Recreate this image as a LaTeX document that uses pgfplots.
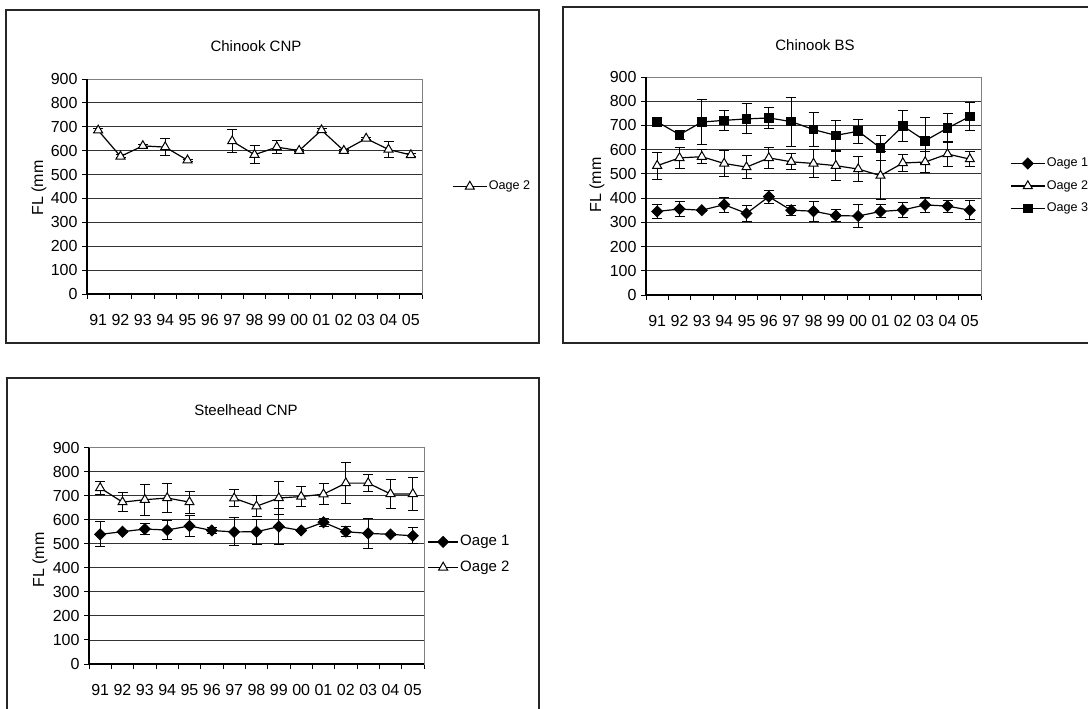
\documentclass[border=0pt]{standalone}
\usepackage{fontspec}
\setmainfont{Liberation Sans}
\usepackage{pgfplots}
\pgfplotsset{compat=1.18}
\usepackage{pgfplotstable}

\pgfplotstableread{
x y e
0 685 8
1 576 6
2 620 6
3 615 35
4 560 5
5 nan nan
6 640 48
7 583 38
8 615 28
9 600 5
10 686 8
11 600 5
12 651 6
13 605 32
14 582 5
}\cnpB

\pgfplotstableread{
x y e
0 345 29
1 355 29
2 350 4
3 373 31
4 337 32
5 406 27
6 350 21
7 346 42
8 328 25
9 326 49
10 345 27
11 351 31
12 372 30
13 367 25
14 350 39
}\bsA

\pgfplotstableread{
x y e
0 534 56
1 566 45
2 571 28
3 543 54
4 528 49
5 566 45
6 550 33
7 543 57
8 534 60
9 520 50
10 493 98
11 545 36
12 549 44
13 582 50
14 561 30
}\bsB

\pgfplotstableread{
x y e
0 715 15
1 662 18
2 714 94
3 721 40
4 727 62
5 731 44
6 716 101
7 683 70
8 659 63
9 676 50
10 607 50
11 698 63
12 637 94
13 689 60
14 737 57
}\bsC

\pgfplotstableread{
x y e
0 539 52
1 550 5
2 561 22
3 557 38
4 574 42
5 555 11
6 549 58
7 550 52
8 571 75
9 555 5
10 589 17
11 550 20
12 543 61
13 539 5
14 533 34
}\shA

\pgfplotstableread{
x y e
0 732 26
1 673 40
2 683 64
3 690 62
4 673 46
5 nan nan
6 689 35
7 656 44
8 690 69
9 696 42
10 706 45
11 752 84
12 752 34
13 707 60
14 707 67
}\shB

\pgfplotsset{
  fish/.style={
    scale only axis, width=335pt,
    xmin=-0.5, xmax=14.5, ymin=0, ymax=900,
    ytick={0,100,...,900},
    xtick={-0.5,0.5,...,14.5},
    xticklabels={91,92,93,94,95,96,97,98,99,00,01,02,03,04,05},
    x tick label as interval,
    tick pos=left,
    tick align=outside,
    major tick length=5pt,
    tick style={black, line width=0.9pt},
    ymajorgrids, xmajorgrids=false,
    grid style={black!80, line width=0.8pt},
    axis line style={black!50, line width=1pt},
    /pgf/number format/assume math mode=true,
    tick label style={font=\fontsize{16}{18}\selectfont},
    xticklabel style={yshift=-12pt},
    yticklabel style={xshift=-1pt},
    clip=false,
    unbounded coords=jump,
    legend cell align=left,
    legend image code/.code={\draw[mark repeat=2,mark phase=2] plot coordinates {(0pt,0pt) (17pt,0pt) (34pt,0pt)};},
    every axis plot/.append style={black, line width=1.2pt},
    error bars/error bar style={black, line width=1pt},
    error bars/error mark options={black, line width=1pt, mark size=5pt, rotate=90},
  },
  tri/.style={mark=triangle*, mark size=5.2pt, mark options={fill=white, draw=black, line width=1pt}},
  dia/.style={mark=square*, mark size=3.7pt, mark options={rotate=45, fill=black, draw=black}},
  sqr/.style={mark=square*, mark size=4.2pt, mark options={fill=black, draw=black}},
}

\begin{document}
\begin{tikzpicture}[x=1pt,y=1pt]
\path[use as bounding box] (0,0) rectangle (1088,-709);
% panel frames
\draw[black!85, line width=1.3pt] (6,-10) rectangle (539,-343);
\draw[black!85, line width=1.3pt] (563,-7) rectangle (1110,-343);
\draw[black!85, line width=1.3pt] (7,-378) rectangle (539,-715);

% titles and labels
\node[font=\fontsize{15}{17}\selectfont] at (256,-46) {Chinook CNP};
\node[font=\fontsize{15}{17}\selectfont] at (815,-45) {Chinook BS};
\node[font=\fontsize{15}{17}\selectfont] at (246,-410) {Steelhead CNP};
\node[font=\fontsize{16}{18}\selectfont, rotate=90] at (39,-188) {FL (mm};
\node[font=\fontsize{16}{18}\selectfont, rotate=90] at (597,-185) {FL (mm};
\node[font=\fontsize{16}{18}\selectfont, rotate=90] at (40,-560) {FL (mm};

% Panel 1
\begin{axis}[fish, height=215pt, at={(87pt,-294pt)}, anchor=south west,
  legend style={draw=none, fill=none, at={(1.0896,0.5)}, anchor=west, inner sep=0pt,
    font=\fontsize{12.6}{14}\selectfont,
    nodes={inner sep=1.5pt, text height=9pt, text depth=2.5pt}}]
\draw[black, line width=1.8pt] (rel axis cs:0,0) -- (rel axis cs:0,1);
\draw[black, line width=1.8pt] (rel axis cs:0,0) -- (rel axis cs:1,0);
\addplot[tri, error bars/.cd, y dir=both, y explicit] table[x=x, y=y, y error=e] {\cnpB};
\addlegendentry{Oage 2}
\end{axis}

% Panel 2
\begin{axis}[fish, height=218pt, at={(646pt,-295pt)}, anchor=south west,
  legend style={draw=none, fill=none, at={(1.0866,0.5)}, anchor=west, inner sep=0pt,
    font=\fontsize{12.6}{14}\selectfont, row sep=8pt,
    nodes={inner sep=1.5pt, text height=9pt, text depth=2.5pt}}]
\draw[black, line width=1.3pt] (rel axis cs:0,0) -- (rel axis cs:0,1);
\draw[black, line width=1.3pt] (rel axis cs:0,0) -- (rel axis cs:1,0);
\addplot[dia, error bars/.cd, y dir=both, y explicit] table[x=x, y=y, y error=e] {\bsA};
\addlegendentry{Oage 1}
\addplot[tri, error bars/.cd, y dir=both, y explicit] table[x=x, y=y, y error=e] {\bsB};
\addlegendentry{Oage 2}
\addplot[sqr, error bars/.cd, y dir=both, y explicit] table[x=x, y=y, y error=e] {\bsC};
\addlegendentry{Oage 3}
\end{axis}

% Panel 3
\begin{axis}[fish, height=216.5pt, at={(89pt,-664pt)}, anchor=south west,
  legend image code/.code={\draw[mark repeat=2,mark phase=2] plot coordinates {(0pt,0pt) (15pt,0pt) (30pt,0pt)};},
  legend style={draw=none, fill=none, at={(1.01,0.505)}, anchor=west, inner sep=0pt,
    font=\fontsize{15}{17}\selectfont, row sep=8.5pt,
    nodes={inner sep=1.5pt, text height=11pt, text depth=3pt}}]
\draw[black, line width=1.3pt] (rel axis cs:0,0) -- (rel axis cs:0,1);
\draw[black, line width=1.3pt] (rel axis cs:0,0) -- (rel axis cs:1,0);
\addplot[dia, error bars/.cd, y dir=both, y explicit] table[x=x, y=y, y error=e] {\shA};
\addlegendentry{Oage 1}
\addplot[tri, error bars/.cd, y dir=both, y explicit] table[x=x, y=y, y error=e] {\shB};
\addlegendentry{Oage 2}
\end{axis}
\end{tikzpicture}
\end{document}
